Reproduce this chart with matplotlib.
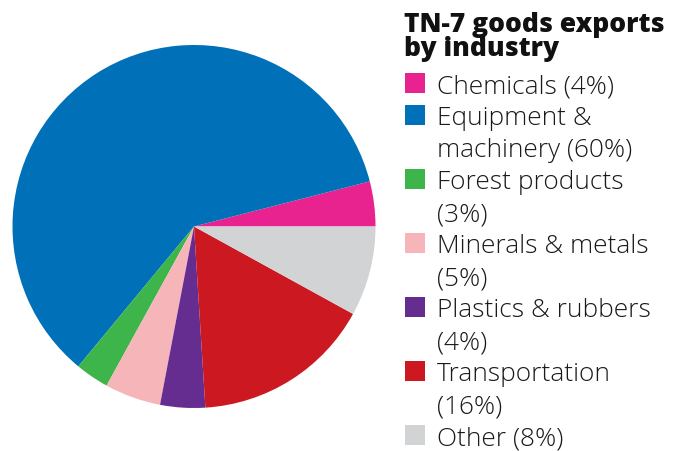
import matplotlib
matplotlib.use("Agg")
import matplotlib.pyplot as plt
from matplotlib.patches import Rectangle

categories = ["Chemicals (4%)", "Equipment &\nmachinery (60%)", "Forest products\n(3%)",
              "Minerals & metals\n(5%)", "Plastics & rubbers\n(4%)", "Transportation\n(16%)",
              "Other (8%)"]
values = [4, 60, 3, 5, 4, 16, 8]
colors = ["#E8238F", "#0070B8", "#3DB54A", "#F5B5B9", "#662D91", "#CC1820", "#D1D3D4"]
title = "TN-7 goods exports\nby industry"

W, H = 677, 451
fig = plt.figure(figsize=(W / 100, H / 100), dpi=100)

cx, cy, r = 194, 226.5, 181.5
ax = fig.add_axes([(cx - r) / W, (H - cy - r) / H, 2 * r / W, 2 * r / H])
ax.pie(values, colors=colors, startangle=0, counterclock=True, radius=1,
       wedgeprops=dict(linewidth=0))
ax.set_xlim(-1, 1)
ax.set_ylim(-1, 1)
ax.set_aspect("equal")
ax.axis("off")

def fy(y):
    return 1 - y / H

# title
fig.text(404 / W, fy(32), title.split("\n")[0], fontsize=19, fontweight="heavy",
         family=["Open Sans", "DejaVu Sans"], va="baseline", ha="left", color="#111111")
fig.text(404 / W, fy(55.5), title.split("\n")[1], fontsize=19, fontweight="heavy",
         family=["Open Sans", "DejaVu Sans"], va="baseline", ha="left", color="#111111")

# legend
line = 0
for lab, col in zip(categories, colors):
    top = 73 + 32 * line
    fig.patches.append(Rectangle((405 / W, fy(top + 20)), 20 / W, 20 / H,
                                 transform=fig.transFigure, facecolor=col,
                                 edgecolor="none"))
    for j, part in enumerate(lab.split("\n")):
        fig.text(437 / W, fy(top + 20 + 32 * j), part, fontsize=18.9,
                 fontweight="light", family=["Open Sans", "DejaVu Sans"],
                 va="baseline", ha="left", color="#1a1a1a")
    line += len(lab.split("\n"))

fig.savefig("out.png", dpi=100)
